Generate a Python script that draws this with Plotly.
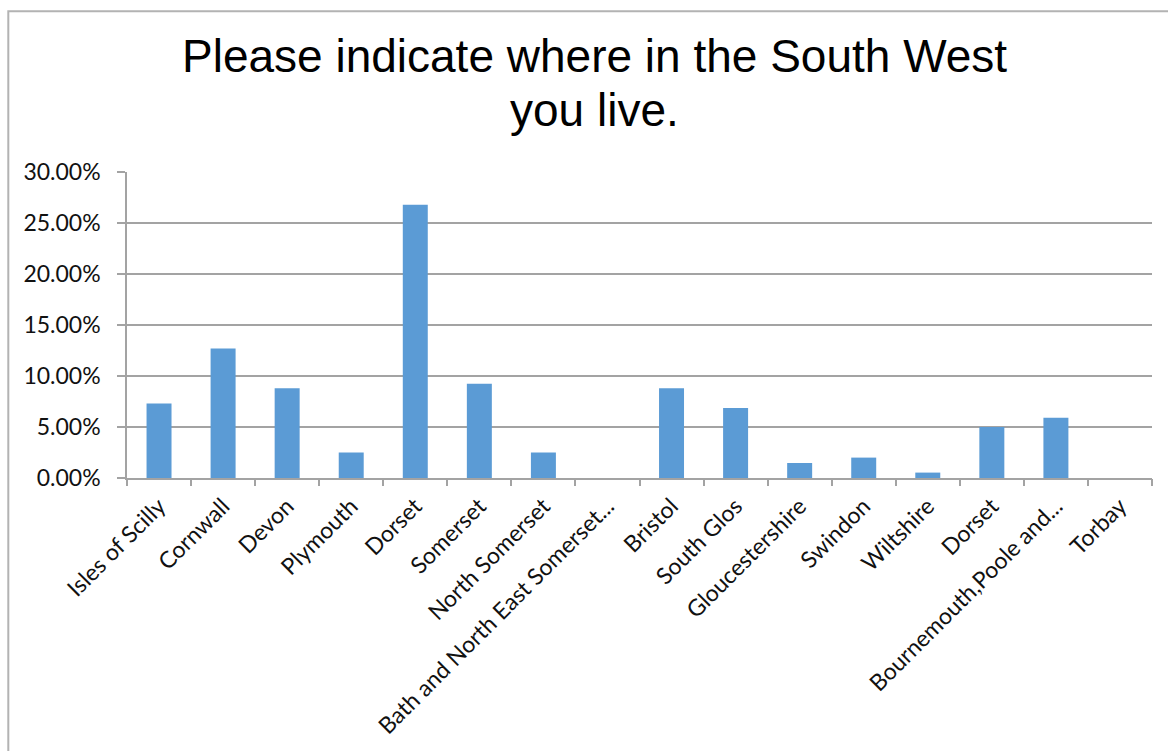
import plotly.graph_objects as go

categories = ["Isles of Scilly", "Cornwall", "Devon", "Plymouth", "Dorset", "Somerset",
              "North Somerset", "Bath and North East Somerset...", "Bristol", "South Glos",
              "Gloucestershire", "Swindon", "Wiltshire", "Dorset", "Bournemouth,Poole and...",
              "Torbay"]
values = [0.073, 0.127, 0.088, 0.025, 0.268, 0.0925, 0.025, 0.0, 0.088, 0.0686,
          0.0147, 0.020, 0.0053, 0.050, 0.059, 0.0]
y_ticks = [0.0, 0.05, 0.10, 0.15, 0.20, 0.25, 0.30]
title_lines = ["Please indicate where in the South West", "you live."]

positions = list(range(len(categories)))
boundaries = [p - 0.5 for p in positions] + [positions[-1] + 0.5]

W, H = 1168, 751
L, R = 126.7, 1151.7
T, B = 171.7, 477.7

def py(pix):
    return (B - pix) / (B - T)

def px(pix):
    return (pix - L) / (R - L)

fig = go.Figure()
fig.add_trace(go.Bar(x=positions, y=values, width=0.39,
                     marker=dict(color="#5B9BD5", line=dict(width=0)),
                     showlegend=False, hoverinfo="skip"))
fig.add_trace(go.Scatter(x=[positions[0]], y=[0], xaxis="x2", mode="markers",
                         marker=dict(opacity=0), showlegend=False, hoverinfo="skip"))

grid = "#A3A3A3"
tick_font = dict(family="Lato, 'Open Sans', sans-serif", size=23, color="#111111")

fig.update_layout(
    width=W, height=H,
    paper_bgcolor="white", plot_bgcolor="white",
    margin=dict(l=L, r=W - R, t=T, b=H - B, pad=0),
    xaxis=dict(range=[-0.5, len(categories) - 0.5], tickmode="array",
               tickvals=positions, ticktext=categories, tickangle=-45,
               ticks="", showgrid=False, zeroline=False,
               showline=True, linecolor=grid, linewidth=1.5,
               tickfont=tick_font, ticklabelstandoff=4),
    xaxis2=dict(overlaying="x", matches="x", anchor="y", side="bottom",
                tickmode="array", tickvals=boundaries, showticklabels=False,
                ticks="outside", ticklen=7, tickcolor=grid, tickwidth=1.5,
                showgrid=False, zeroline=False, showline=False),
    yaxis=dict(range=[0, 0.30], tickmode="array", tickvals=y_ticks,
               tickformat=".2%", showgrid=True, gridcolor=grid, gridwidth=1.5,
               zeroline=False, showline=True, linecolor=grid, linewidth=1.5,
               ticks="outside", ticklen=8, tickcolor=grid, tickwidth=1.5,
               tickfont=tick_font, ticklabelstandoff=12),
    bargap=0.6,
)

title_font = dict(family="Liberation Sans, Arial, sans-serif", size=46, color="black")
for text, ypix in zip(title_lines, [56, 110]):
    fig.add_annotation(text=text, xref="paper", yref="paper", x=px(594), y=py(ypix),
                       xanchor="center", yanchor="middle", showarrow=False,
                       font=title_font)

# chart frame border
fig.add_shape(type="rect", xref="paper", yref="paper",
              x0=px(8), x1=px(1180), y0=py(770), y1=py(11),
              line=dict(color="#B3B3B3", width=2), fillcolor="rgba(0,0,0,0)",
              layer="below")

fig.write_html("out.html", config={"displayModeBar": False},
               post_script="document.body.style.margin='0';document.body.style.overflow='hidden';")
